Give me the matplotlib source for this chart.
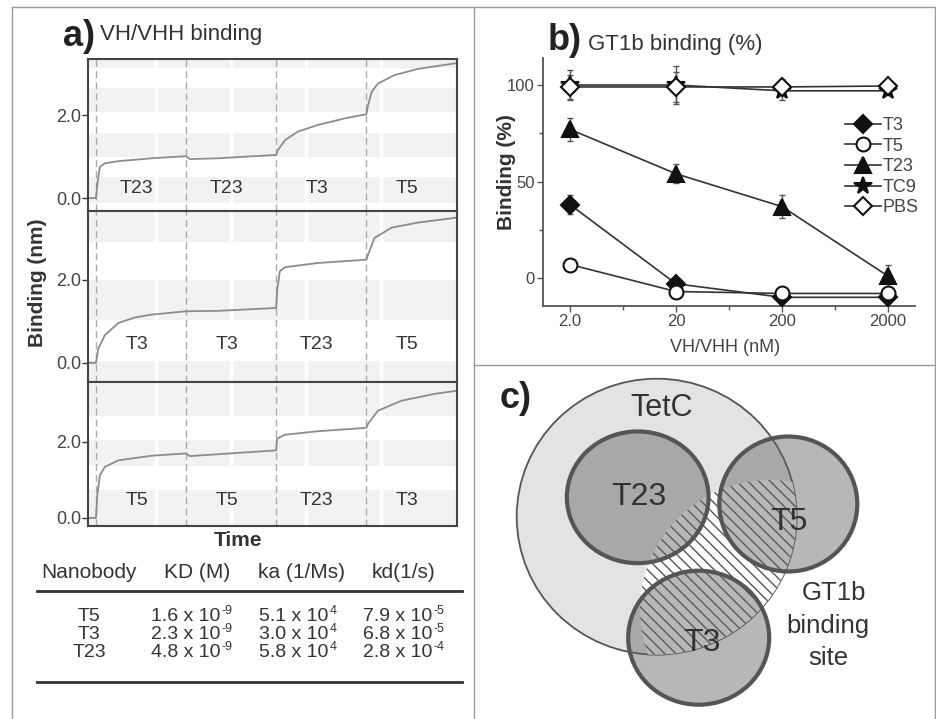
import matplotlib
matplotlib.use('Agg')
import matplotlib.pyplot as plt
from matplotlib.patches import Ellipse
from matplotlib.ticker import FixedLocator, NullFormatter

plt.rcParams['font.family'] = ['Liberation Sans', 'DejaVu Sans']
plt.rcParams['hatch.linewidth'] = 1.0

# ---------------- Panel a data (sensorgrams) ----------------
step_starts = [100, 700, 1300, 1900]
grid_times = [500, 1000, 1500, 2000]
time_lim = (49, 2502)

top_time = [49, 100, 111, 126, 160, 250, 472, 700, 724, 916, 1300, 1312, 1360, 1444,
            1576, 1756, 1900, 1912, 1936, 1978, 2086, 2242, 2500]
top_val = [0.0, 0.0, 0.39, 0.75, 0.84, 0.89, 0.96, 1.01, 0.94, 0.96, 1.04, 1.16, 1.40, 1.60,
           1.76, 1.92, 2.02, 2.24, 2.56, 2.76, 2.96, 3.11, 3.25]
top_labels = ['T23', 'T23', 'T3', 'T5']

mid_time = [49, 100, 116, 160, 250, 358, 472, 700, 916, 1300, 1306, 1324, 1360, 1576,
            1900, 1912, 1954, 2068, 2242, 2500]
mid_val = [0.0, 0.0, 0.35, 0.67, 0.96, 1.09, 1.16, 1.24, 1.25, 1.32, 1.72, 2.20, 2.30, 2.40,
           2.48, 2.60, 3.00, 3.25, 3.37, 3.49]
mid_labels = ['T3', 'T3', 'T23', 'T5']

bot_time = [49, 100, 109, 126, 160, 250, 472, 700, 724, 916, 1300, 1306, 1360, 1576,
            1900, 1912, 1978, 2134, 2356, 2500]
bot_val = [0.0, 0.0, 0.60, 1.12, 1.34, 1.51, 1.63, 1.69, 1.62, 1.67, 1.77, 2.08, 2.18, 2.27,
           2.36, 2.47, 2.81, 3.07, 3.25, 3.33]
bot_labels = ['T5', 'T5', 'T23', 'T3']

# ---------------- Panel b data ----------------
conc = [2, 20, 200, 2000]
conc_labels = ['2.0', '20', '200', '2000']
bind_T3 = [38, -3, -10, -10]
bind_T5 = [7, -7, -8, -8]
bind_T23 = [77, 54, 37, 1]
bind_TC9 = [100, 100, 97, 97]
bind_PBS = [99, 99, 99, 99.5]
err_T3 = [5, 2, 2, 2]
err_T5 = [2, 2, 2, 2]
err_T23 = [6, 5, 6, 6]
err_TC9 = [8, 10, 5, 2]
err_PBS = [6, 8, 4, 2]

# ---------------- Table data ----------------
table_header = ['Nanobody', 'KD (M)', 'ka (1/Ms)', 'kd(1/s)']
table_names = ['T5', 'T3', 'T23']
table_KD = [('1.6 x 10', '-9'), ('2.3 x 10', '-9'), ('4.8 x 10', '-9')]
table_ka = [('5.1 x 10', '4'), ('3.0 x 10', '4'), ('5.8 x 10', '4')]
table_kd = [('7.9 x 10', '-5'), ('6.8 x 10', '-5'), ('2.8 x 10', '-4')]

W, H = 937, 719
fig = plt.figure(figsize=(W / 100, H / 100), dpi=100)
fig.patch.set_facecolor('white')


def fax(x0, y0, x1, y1):
    return [x0 / W, 1 - y1 / H, (x1 - x0) / W, (y1 - y0) / H]


# ---------------- Panel a ----------------
panels = [
    (fax(88.3, 59, 456.7, 211), top_time, top_val, top_labels, (-0.31, 3.35),
     [(-0.12, 0.5), (0.99, 1.57), (2.07, 2.65), (3.13, 3.5)], 0.24),
    (fax(88.3, 211, 456.7, 382), mid_time, mid_val, mid_labels, (-0.46, 3.65),
     [(-1.0, 0.05), (1.04, 2.0), (2.9, 4.0)], 0.43),
    (fax(88.3, 382, 456.7, 526), bot_time, bot_val, bot_labels, (-0.21, 3.56),
     [(-0.2, 0.73), (1.35, 2.03), (2.68, 3.7)], 0.47),
]
for rect, tt, vv, labs, ylim, bands, label_y in panels:
    ax = fig.add_axes(rect)
    ax.set_xlim(*time_lim)
    ax.set_ylim(*ylim)
    for b0, b1 in bands:
        ax.axhspan(b0, b1, color='#f2f2f2', lw=0, zorder=0)
    for g in grid_times:
        ax.axvline(g, color='white', lw=2.5, zorder=0.5)
    for s in step_starts:
        ax.axvline(s, color='#ababab', lw=1, ls=(0, (5, 3)), zorder=1)
    ax.plot(tt, vv, color='#8c8c8c', lw=1.3, zorder=2)
    for s, lab in zip(step_starts, labs):
        ax.text(s + 270, label_y, lab, ha='center', va='center', fontsize=14, color='#333333', zorder=3)
    ax.set_xticks([])
    ax.set_yticks([0, 2])
    ax.set_yticklabels(['0.0', '2.0'])
    ax.tick_params(axis='y', direction='out', length=4, width=1, colors='#333333',
                   labelsize=13, pad=1, labelcolor='#444444')
    for sp in ax.spines.values():
        sp.set_color('#444444')
        sp.set_linewidth(1.5)

fig.text(38 / W, 1 - 283 / H, 'Binding (nm)', rotation=90, ha='center', va='center',
         fontsize=15, fontweight='bold', color='#333333')
fig.text(238 / W, 1 - 540 / H, 'Time', ha='center', va='center',
         fontsize=15, fontweight='bold', color='#333333')

# ---------------- Panel b ----------------
axb = fig.add_axes(fax(543, 58, 915, 306))
axb.set_xscale('log')
axb.set_xlim(1.11, 3597)
axb.set_ylim(-14.5, 114)
series = [
    ('T3', bind_T3, err_T3, 'D', 9, '#111111'),
    ('T5', bind_T5, err_T5, 'o', 10, 'white'),
    ('T23', bind_T23, err_T23, '^', 11, '#111111'),
    ('TC9', bind_TC9, err_TC9, '*', 13, '#111111'),
    ('PBS', bind_PBS, err_PBS, 'D', 9, 'white'),
]
handles = []
for name, vals, errs, mk, ms, fc in series:
    axb.errorbar(conc, vals, yerr=errs, fmt='none', ecolor='#555555', elinewidth=1,
                 capsize=2.5, zorder=2)
    ln, = axb.plot(conc, vals, '-', color='#333333', lw=1.2, marker=mk, ms=ms, mfc=fc,
                   mec='#111111', mew=1.5, zorder=3, label=name)
    handles.append(ln)
axb.spines['top'].set_visible(False)
axb.spines['right'].set_visible(False)
for side in ['left', 'bottom']:
    axb.spines[side].set_color('#555555')
    axb.spines[side].set_linewidth(1.3)
axb.xaxis.set_major_locator(FixedLocator(conc))
axb.set_xticklabels(conc_labels)
axb.xaxis.set_minor_locator(FixedLocator([6.32, 63.2, 632]))
axb.xaxis.set_minor_formatter(NullFormatter())
axb.yaxis.set_major_locator(FixedLocator([0, 50, 100]))
axb.set_yticklabels(['0', '50', '100'])
axb.yaxis.set_minor_locator(FixedLocator([25, 75]))
axb.tick_params(which='major', direction='out', length=4, width=1, colors='#555555',
                labelsize=12, labelcolor='#444444', pad=2)
axb.tick_params(which='minor', direction='out', length=3, width=1, colors='#555555')
fig.text(507 / W, 1 - 172 / H, 'Binding (%)', rotation=90, ha='center', va='center',
         fontsize=15, fontweight='bold', color='#333333')
fig.text(725 / W, 1 - 347 / H, 'VH/VHH (nM)', ha='center', va='center',
         fontsize=13, color='#444444')
leg = axb.legend(handles=handles, loc='upper left', bbox_to_anchor=(845 / W, 1 - 117 / H),
                 bbox_transform=fig.transFigure, frameon=False, fontsize=13,
                 handlelength=2.0, handletextpad=0.1, labelspacing=0.2, borderpad=0,
                 borderaxespad=0)
for t in leg.get_texts():
    t.set_color('#444444')

# ---------------- overlay (frames, titles, table, diagram) ----------------
axo = fig.add_axes([0, 0, 1, 1], zorder=10)
axo.set_xlim(0, W)
axo.set_ylim(H, 0)
axo.axis('off')
axo.patch.set_visible(False)

fc = '#9a9a9a'
axo.plot([12, 12], [7, H], color=fc, lw=1)
axo.plot([12, 935], [7, 7], color=fc, lw=1)
axo.plot([935, 935], [7, H], color=fc, lw=1)
axo.plot([474, 474], [7, H], color=fc, lw=1)
axo.plot([474, 935], [365, 365], color=fc, lw=1)

axo.text(63, 46, 'a)', fontsize=26, fontweight='bold', color='#222222', va='baseline')
axo.text(100, 40, 'VH/VHH binding', fontsize=16, color='#333333', va='baseline')
axo.text(548, 50, 'b)', fontsize=26, fontweight='bold', color='#222222', va='baseline')
axo.text(588, 50, 'GT1b binding (%)', fontsize=16, color='#333333', va='baseline')
axo.text(500, 408, 'c)', fontsize=26, fontweight='bold', color='#222222', va='baseline')

# table
renderer = fig.canvas.get_renderer()
col_x = [89, 197, 302, 404]
for x, h in zip(col_x, table_header):
    axo.text(x, 578, h, ha='center', va='baseline', fontsize=15, color='#333333')
axo.plot([37, 462], [591, 591], color='#333333', lw=2)
row_y = [621, 639, 657]
col_left = [151, 259, 363]
for i in range(3):
    axo.text(89, row_y[i], table_names[i], ha='center', va='baseline', fontsize=14, color='#333333')
    for xl, (base, sup) in zip(col_left, [table_KD[i], table_ka[i], table_kd[i]]):
        bt = axo.text(xl, row_y[i], base, ha='left', va='baseline', fontsize=14, color='#333333')
        x_end = bt.get_window_extent(renderer).x1
        axo.text(x_end + 1, row_y[i] - 6.5, sup, ha='left', va='baseline', fontsize=9,
                 color='#333333')
axo.plot([37, 462], [682, 682], color='#333333', lw=2)

# diagram
tetc = Ellipse((656.7, 516.7), 280, 276, facecolor='#e3e3e3', edgecolor='#555555', lw=1.3, zorder=1)
axo.add_patch(tetc)
hatch = Ellipse((770, 610), 260, 260, facecolor='white', edgecolor='#555555', lw=0,
                hatch='\\\\\\', zorder=2)
axo.add_patch(hatch)
hatch.set_clip_path(tetc)
small = [('T23', (637.7, 497.3), 141.7, 131.7, (638.5, 497)),
         ('T5', (788.3, 504), 138, 135, (788.5, 522)),
         ('T3', (698.7, 637.7), 141, 134, (702, 643))]
for name, c, w, h, tpos in small:
    axo.add_patch(Ellipse(c, w, h, facecolor=(0.38, 0.38, 0.38, 0.45), edgecolor='#555555',
                          lw=3, zorder=3))
    axo.text(tpos[0], tpos[1], name, ha='center', va='center', fontsize=23, color='#333333', zorder=4)
axo.text(662, 408, 'TetC', ha='center', va='center', fontsize=22, color='#333333', zorder=4)
axo.text(834, 600, 'GT1b', ha='center', va='baseline', fontsize=18.5, color='#333333')
axo.text(828, 633, 'binding', ha='center', va='baseline', fontsize=18.5, color='#333333')
axo.text(828, 665, 'site', ha='center', va='baseline', fontsize=18.5, color='#333333')

fig.savefig('out.png', dpi=100)
